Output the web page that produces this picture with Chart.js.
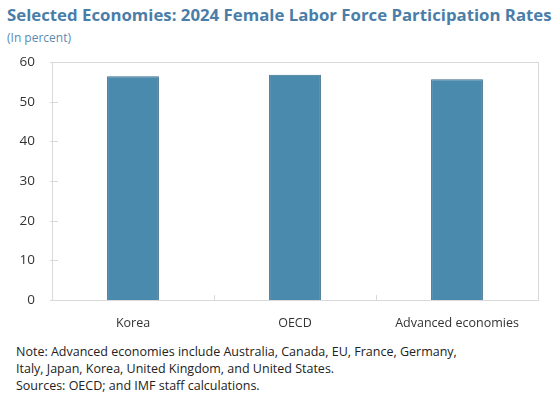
<!DOCTYPE html>
<html>
<head>
<meta charset="utf-8">
<script src="https://cdn.jsdelivr.net/npm/chart.js@4"></script>
<style>
  body { margin: 0; background: #fff; font-family: "Open Sans", sans-serif; }
  #wrap { position: relative; width: 556px; height: 400px; overflow: hidden; }
  #title { position: absolute; left: 7px; top: 3px; font-size: 16.8px; font-weight: bold; color: #4a7ea8; white-space: nowrap; }
  #subtitle { position: absolute; left: 7px; top: 29px; font-size: 12px; color: #5b8ab0; }
  #box { position: absolute; left: 0; top: 45px; width: 556px; height: 294px; }
  #notes { position: absolute; left: 16px; top: 343px; font-size: 12.5px; line-height: 17px; color: #222; }
</style>
</head>
<body>
<div id="wrap">
  <div id="title">Selected Economies: 2024 Female Labor Force Participation Rates</div>
  <div id="subtitle">(In percent)</div>
  <div id="box"><canvas id="rateChart" width="556" height="294"></canvas></div>
  <div id="notes">
    Note: Advanced economies include Australia, Canada, EU, France, Germany,<br>
    Italy, Japan, Korea, United Kingdom, and United States.<br>
    Sources: OECD; and IMF staff calculations.
  </div>
</div>
<script>
const categories = ['Korea', 'OECD', 'Advanced economies'];
const participation = [56.4, 56.8, 55.7];
const yTicks = [0, 10, 20, 30, 40, 50, 60];

// plot frame plus the small inner tick marks on both axes
const frame = {
    id: 'frame',
    afterDraw(chart) {
        const { ctx, chartArea: a, scales } = chart;
        ctx.save();
        ctx.strokeStyle = '#d9d9d9';
        ctx.lineWidth = 1;
        ctx.strokeRect(Math.round(a.left) + 0.5, Math.round(a.top) + 0.5,
            Math.round(a.right - a.left), Math.round(a.bottom - a.top));
        ctx.beginPath();
        yTicks.forEach(v => {
            const y = Math.round(scales.y.getPixelForValue(v)) + 0.5;
            ctx.moveTo(a.left - 2, y);
            ctx.lineTo(a.left + 6, y);
        });
        for (let i = 1; i < categories.length; i++) {
            const x = Math.round((scales.x.getPixelForValue(i - 1) + scales.x.getPixelForValue(i)) / 2) + 0.5;
            ctx.moveTo(x, a.bottom);
            ctx.lineTo(x, a.bottom - 5);
        }
        ctx.stroke();
        ctx.restore();
    }
};

const ctx = document.getElementById('rateChart').getContext('2d');
new Chart(ctx, {
    type: 'bar',
    data: {
        labels: categories,
        datasets: [{
            data: participation,
            backgroundColor: '#4a8aad',
            borderColor: '#3b6d88',
            borderWidth: 1,
            barPercentage: 0.32,
            categoryPercentage: 1
        }]
    },
    options: {
        responsive: false,
        animation: false,
        layout: { padding: { top: 3, right: 18, left: 0, bottom: 0 } },
        plugins: { legend: { display: false }, tooltip: { enabled: false } },
        scales: {
            x: {
                grid: { display: false },
                border: { display: false },
                ticks: { color: '#333', font: { family: 'Open Sans', size: 12.5 }, padding: 8 }
            },
            y: {
                min: 0,
                max: 60,
                afterFit(scale) { scale.width = 52; },
                afterBuildTicks(scale) { scale.ticks = yTicks.map(v => ({ value: v })); },
                grid: { display: false },
                border: { display: false },
                ticks: { color: '#333', font: { family: 'Open Sans', size: 13.5 }, padding: 9 }
            }
        }
    },
    plugins: [frame]
});
</script>
</body>
</html>
